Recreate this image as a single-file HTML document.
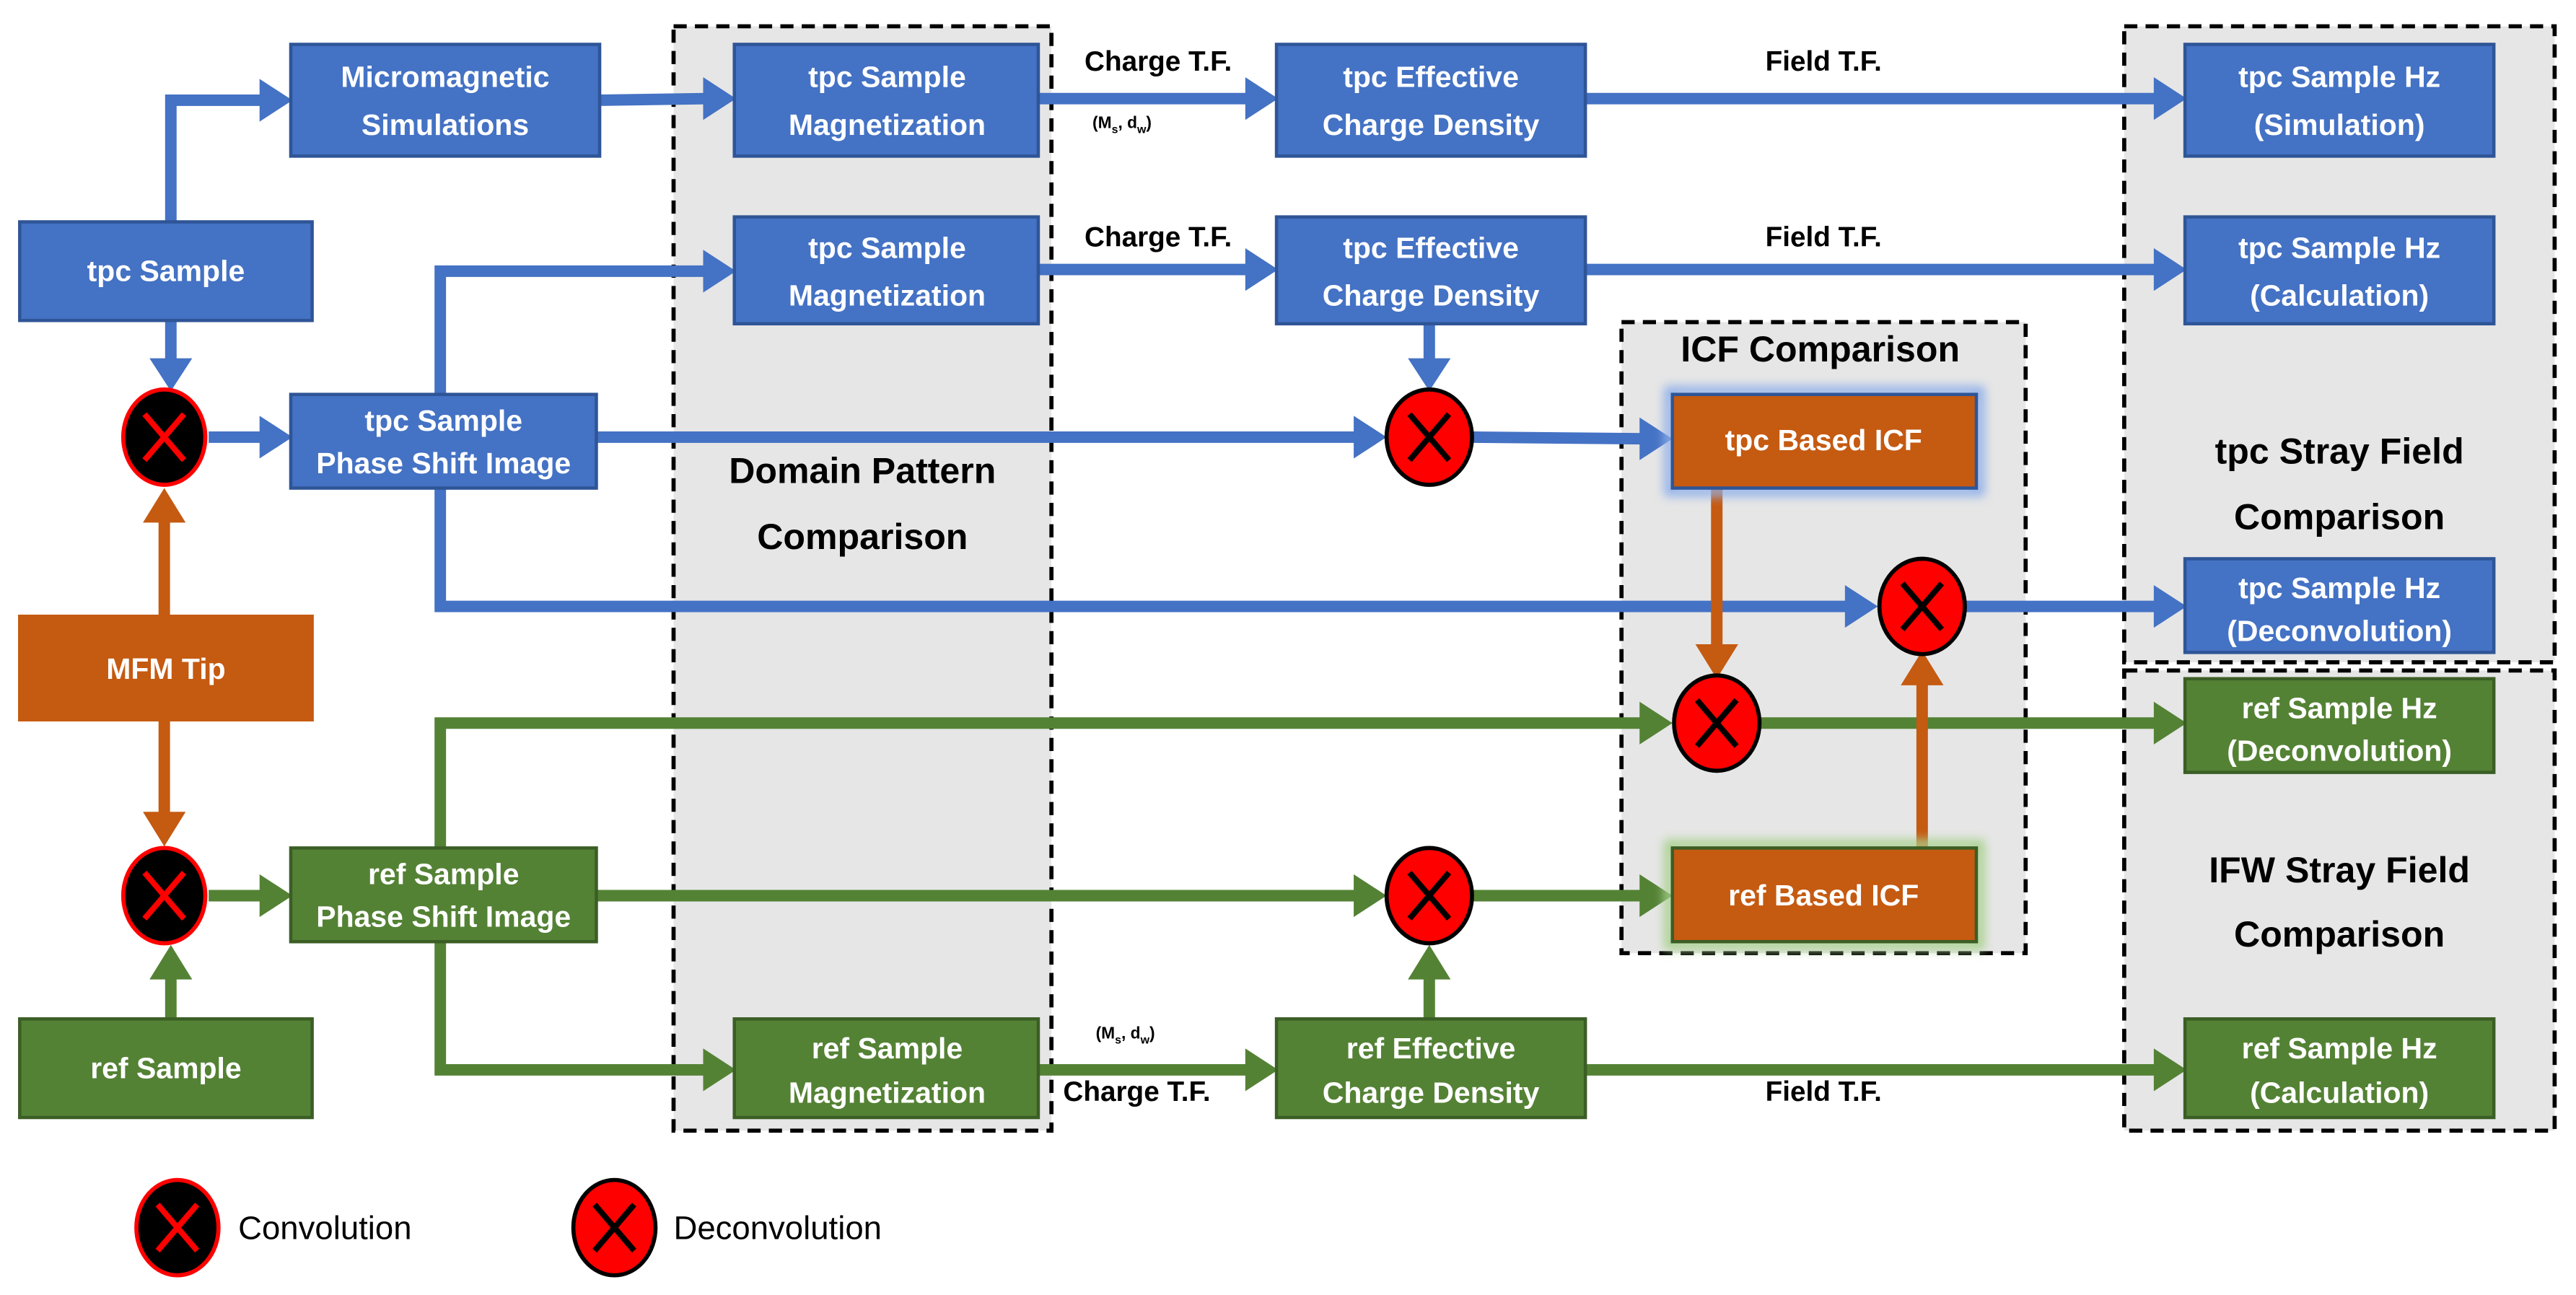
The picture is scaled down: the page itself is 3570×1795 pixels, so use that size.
<!DOCTYPE html>
<html><head><meta charset="utf-8"><style>
html,body{margin:0;padding:0;background:#fff;}
svg{display:block;}
.bt{font-family:"Liberation Sans",sans-serif;font-weight:bold;font-size:18px;fill:#fff;text-anchor:middle;}
.lt{font-family:"Liberation Sans",sans-serif;font-weight:bold;font-size:17px;fill:#000;text-anchor:middle;}
.ht{font-family:"Liberation Sans",sans-serif;font-weight:bold;font-size:22px;fill:#000;text-anchor:middle;}
.sm{font-family:"Liberation Sans",sans-serif;font-weight:bold;font-size:10px;fill:#000;}
.lg{font-family:"Liberation Sans",sans-serif;font-size:20px;fill:#000;}
</style></head><body>
<svg width="3570" height="1795" viewBox="0 0 1568 788" preserveAspectRatio="none" xmlns="http://www.w3.org/2000/svg">
<defs>
<filter id="gb" x="-20%" y="-30%" width="140%" height="160%"><feGaussianBlur stdDeviation="3"/></filter>
</defs>
<rect x="410" y="16" width="230" height="672" fill="#e6e6e6" stroke="#000" stroke-width="2.5" stroke-dasharray="8,5"/>
<rect x="1293" y="16" width="262" height="387" fill="#e6e6e6" stroke="#000" stroke-width="2.5" stroke-dasharray="8,5"/>
<rect x="1293" y="408" width="262" height="280" fill="#e6e6e6" stroke="#000" stroke-width="2.5" stroke-dasharray="8,5"/>
<rect x="987" y="196" width="246" height="384" fill="#e6e6e6" stroke="#000" stroke-width="2.5" stroke-dasharray="8,5"/>
<text class="ht" x="525" y="294">Domain Pattern</text>
<text class="ht" x="525" y="334">Comparison</text>
<text class="ht" x="1424" y="282">tpc Stray Field</text>
<text class="ht" x="1424" y="322">Comparison</text>
<text class="ht" x="1424" y="537">IFW Stray Field</text>
<text class="ht" x="1424" y="576">Comparison</text>
<text class="ht" x="1108" y="220">ICF Comparison</text>

<g fill="none" stroke="#4472C4" stroke-width="7">
<polyline points="104,135 104,61 160,61"/>
<line x1="365" y1="61" x2="430" y2="60"/>
<line x1="632" y1="60" x2="760" y2="60"/>
<line x1="965" y1="60" x2="1313" y2="60"/>
<line x1="632" y1="164" x2="760" y2="164"/>
<line x1="965" y1="164" x2="1313" y2="164"/>
<line x1="104" y1="195" x2="104" y2="222"/>
<line x1="127" y1="266" x2="160" y2="266"/>
<polyline points="268,240 268,165 430,165"/>
<line x1="363" y1="266" x2="826" y2="266"/>
<line x1="897" y1="266" x2="1001" y2="267"/>
<line x1="870" y1="197" x2="870" y2="222"/>
<polyline points="268,297 268,369 1125,369"/>
<line x1="1197" y1="369" x2="1313" y2="369"/>
</g>
<g fill="#4472C4">
<polygon points="158,48 178,61 158,74"/>
<polygon points="428,47 448,60 428,73"/>
<polygon points="758,47 778,60 758,73"/>
<polygon points="1311,47 1331,60 1311,73"/>
<polygon points="428,152 448,165 428,178"/>
<polygon points="758,151 778,164 758,177"/>
<polygon points="1311,151 1331,164 1311,177"/>
<polygon points="91,218 104,238 117,218"/>
<polygon points="158,253 178,266 158,279"/>
<polygon points="824,253 844,266 824,279"/>
<polygon points="998,254 1018,267 998,280"/>
<polygon points="857,218 870,238 883,218"/>
<polygon points="1123,356 1143,369 1123,382"/>
<polygon points="1311,356 1331,369 1311,382"/>
</g>
<g fill="none" stroke="#548235" stroke-width="7">
<line x1="104" y1="620" x2="104" y2="592"/>
<line x1="127" y1="545" x2="160" y2="545"/>
<line x1="363" y1="545" x2="826" y2="545"/>
<line x1="897" y1="545" x2="1001" y2="545"/>
<polyline points="268,516 268,440 1000,440"/>
<line x1="1072" y1="440" x2="1313" y2="440"/>
<polyline points="268,573 268,651 430,651"/>
<line x1="632" y1="651" x2="760" y2="651"/>
<line x1="965" y1="651" x2="1313" y2="651"/>
<line x1="870" y1="620" x2="870" y2="592"/>
</g>
<g fill="#548235">
<polygon points="91,596 104,575 117,596"/>
<polygon points="158,532 178,545 158,558"/>
<polygon points="824,532 844,545 824,558"/>
<polygon points="998,532 1018,545 998,558"/>
<polygon points="998,427 1018,440 998,453"/>
<polygon points="1311,427 1331,440 1311,453"/>
<polygon points="428,638 448,651 428,664"/>
<polygon points="758,638 778,651 758,664"/>
<polygon points="1311,638 1331,651 1311,664"/>
<polygon points="857,596 870,575 883,596"/>
</g>
<g fill="none" stroke="#C55A11" stroke-width="7">
<line x1="100" y1="375" x2="100" y2="316"/>
<line x1="100" y1="438" x2="100" y2="496"/>
<line x1="1045" y1="297" x2="1045" y2="394"/>
<line x1="1170" y1="516" x2="1170" y2="415"/>
</g>
<g fill="#C55A11">
<polygon points="87,318 100,297 113,318"/>
<polygon points="87,494 100,515 113,494"/>
<polygon points="1032,392 1045,413 1058,392"/>
<polygon points="1157,417 1170,396 1183,417"/>
</g>

<g stroke-width="2.5">
<ellipse cx="100" cy="266" rx="25" ry="29" fill="#000" stroke="#f00"/>
<ellipse cx="100" cy="545" rx="25" ry="29" fill="#000" stroke="#f00"/>
<ellipse cx="870" cy="266" rx="26" ry="29" fill="#f00" stroke="#000"/>
<ellipse cx="870" cy="545" rx="26" ry="29" fill="#f00" stroke="#000"/>
<ellipse cx="1170" cy="369" rx="26" ry="29" fill="#f00" stroke="#000"/>
<ellipse cx="1045" cy="440" rx="26" ry="29" fill="#f00" stroke="#000"/>
<ellipse cx="108" cy="747" rx="25" ry="29" fill="#000" stroke="#f00"/>
<ellipse cx="374" cy="747" rx="25" ry="29" fill="#f00" stroke="#000"/>
</g>
<g stroke-width="3.5">
<path d="M88,252 L112,280 M112,252 L88,280" stroke="#f00"/>
<path d="M88,531 L112,559 M112,531 L88,559" stroke="#f00"/>
<path d="M96,733 L120,761 M120,733 L96,761" stroke="#f00"/>
<path d="M858,252 L882,280 M882,252 L858,280" stroke="#000"/>
<path d="M858,531 L882,559 M882,531 L858,559" stroke="#000"/>
<path d="M1158,355 L1182,383 M1182,355 L1158,383" stroke="#000"/>
<path d="M1033,426 L1057,454 M1057,426 L1033,454" stroke="#000"/>
<path d="M362,733 L386,761 M386,733 L362,761" stroke="#000"/>
</g>
<text class="lg" x="145" y="754">Convolution</text>
<text class="lg" x="410" y="754">Deconvolution</text>

<text class="lt" x="705" y="43">Charge T.F.</text>
<text class="sm" x="665" y="78">(M<tspan font-size="7" dy="3">s</tspan><tspan dy="-3">, d</tspan><tspan font-size="7" dy="3">w</tspan><tspan dy="-3">)</tspan></text>
<text class="lt" x="1110" y="43">Field T.F.</text>
<text class="lt" x="705" y="150">Charge T.F.</text>
<text class="lt" x="1110" y="150">Field T.F.</text>
<text class="sm" x="667" y="632">(M<tspan font-size="7" dy="3">s</tspan><tspan dy="-3">, d</tspan><tspan font-size="7" dy="3">w</tspan><tspan dy="-3">)</tspan></text>
<text class="lt" x="692" y="670">Charge T.F.</text>
<text class="lt" x="1110" y="670">Field T.F.</text>

<g stroke-width="2">
<rect x="177" y="27" width="188" height="68" fill="#4472C4" stroke="#2F5597"/>
<rect x="447" y="27" width="185" height="68" fill="#4472C4" stroke="#2F5597"/>
<rect x="777" y="27" width="188" height="68" fill="#4472C4" stroke="#2F5597"/>
<rect x="1330" y="27" width="188" height="68" fill="#4472C4" stroke="#2F5597"/>
<rect x="447" y="132" width="185" height="65" fill="#4472C4" stroke="#2F5597"/>
<rect x="777" y="132" width="188" height="65" fill="#4472C4" stroke="#2F5597"/>
<rect x="1330" y="132" width="188" height="65" fill="#4472C4" stroke="#2F5597"/>
<rect x="12" y="135" width="178" height="60" fill="#4472C4" stroke="#2F5597"/>
<rect x="177" y="240" width="186" height="57" fill="#4472C4" stroke="#2F5597"/>
<rect x="1330" y="340" width="188" height="57" fill="#4472C4" stroke="#2F5597"/>
<rect x="12" y="375" width="178" height="63" fill="#C55A11" stroke="#C55A11"/>
<rect x="1330" y="413" width="188" height="57" fill="#548235" stroke="#3B5E25"/>
<rect x="177" y="516" width="186" height="57" fill="#548235" stroke="#3B5E25"/>
<rect x="12" y="620" width="178" height="60" fill="#548235" stroke="#3B5E25"/>
<rect x="447" y="620" width="185" height="60" fill="#548235" stroke="#3B5E25"/>
<rect x="777" y="620" width="188" height="60" fill="#548235" stroke="#3B5E25"/>
<rect x="1330" y="620" width="188" height="60" fill="#548235" stroke="#3B5E25"/>
<rect x="1016" y="238" width="189" height="61" fill="none" stroke="#8fb0ea" stroke-width="6" filter="url(#gb)"/>
<rect x="1018" y="240" width="185" height="57" fill="#C55A11" stroke="#2F5597"/>
<rect x="1016" y="514" width="189" height="61" fill="none" stroke="#a9d18e" stroke-width="6" filter="url(#gb)"/>
<rect x="1018" y="516" width="185" height="57" fill="#C55A11" stroke="#3B5E25"/>
</g>
<g>
<text class="bt" x="271" y="53">Micromagnetic</text><text class="bt" x="271" y="82">Simulations</text>
<text class="bt" x="540" y="53">tpc Sample</text><text class="bt" x="540" y="82">Magnetization</text>
<text class="bt" x="871" y="53">tpc Effective</text><text class="bt" x="871" y="82">Charge Density</text>
<text class="bt" x="1424" y="53">tpc Sample Hz</text><text class="bt" x="1424" y="82">(Simulation)</text>
<text class="bt" x="540" y="157">tpc Sample</text><text class="bt" x="540" y="186">Magnetization</text>
<text class="bt" x="871" y="157">tpc Effective</text><text class="bt" x="871" y="186">Charge Density</text>
<text class="bt" x="1424" y="157">tpc Sample Hz</text><text class="bt" x="1424" y="186">(Calculation)</text>
<text class="bt" x="101" y="171">tpc Sample</text>
<text class="bt" x="270" y="262">tpc Sample</text><text class="bt" x="270" y="288">Phase Shift Image</text>
<text class="bt" x="1110" y="274">tpc Based ICF</text>
<text class="bt" x="1424" y="364">tpc Sample Hz</text><text class="bt" x="1424" y="390">(Deconvolution)</text>
<text class="bt" x="101" y="413">MFM Tip</text>
<text class="bt" x="1424" y="437">ref Sample Hz</text><text class="bt" x="1424" y="463">(Deconvolution)</text>
<text class="bt" x="270" y="538">ref Sample</text><text class="bt" x="270" y="564">Phase Shift Image</text>
<text class="bt" x="1110" y="551">ref Based ICF</text>
<text class="bt" x="101" y="656">ref Sample</text>
<text class="bt" x="540" y="644">ref Sample</text><text class="bt" x="540" y="671">Magnetization</text>
<text class="bt" x="871" y="644">ref Effective</text><text class="bt" x="871" y="671">Charge Density</text>
<text class="bt" x="1424" y="644">ref Sample Hz</text><text class="bt" x="1424" y="671">(Calculation)</text>
</g>
</svg>
</body></html>
